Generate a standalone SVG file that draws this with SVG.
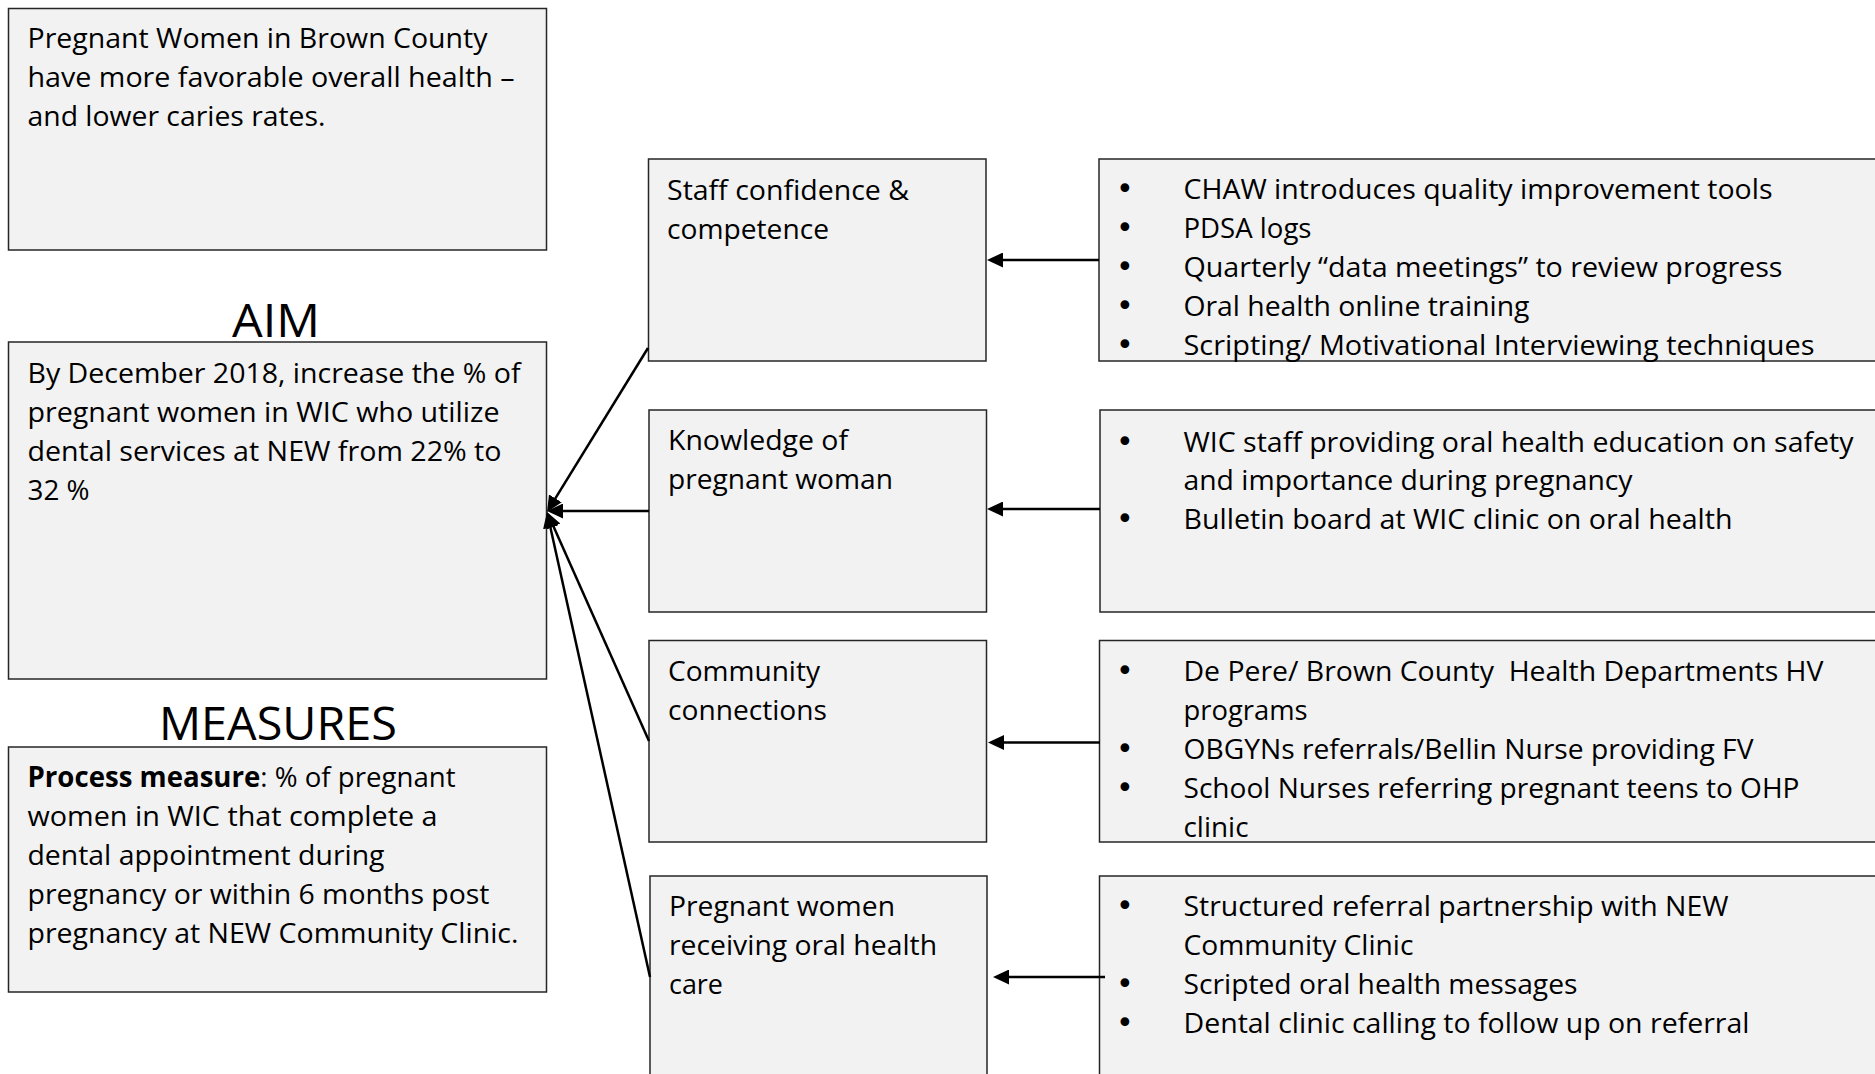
<svg xmlns="http://www.w3.org/2000/svg" width="1875" height="1074" viewBox="0 0 1875 1074">
<defs>
<style>
.box{fill:#f2f2f2;stroke:#262626;stroke-width:1.5}
.t{font-family:"Open Sans","Liberation Sans",sans-serif;font-size:28px;fill:#000}
.bu{font-family:"DejaVu Sans","Liberation Sans",sans-serif;font-size:30px;fill:#000}
.h{font-family:"Open Sans","Liberation Sans",sans-serif;font-size:45px;fill:#000}
.b{font-weight:bold}
.conn{stroke:#000;stroke-width:2.5;fill:none;marker-end:url(#ah)}
</style>
<marker id="ah" markerUnits="userSpaceOnUse" markerWidth="16" markerHeight="15" refX="8" refY="7.5" orient="auto" viewBox="0 0 16 15">
<path d="M0,0 L16,7.5 L0,15 z" fill="#000"/>
</marker>
</defs>
<rect width="1875" height="1074" fill="#fff"/>

<g id="goal">
<rect class="box" x="8.5" y="8.5" width="538" height="241.5"/>
<text class="t" x="27.5" y="47.5" textLength="460" lengthAdjust="spacingAndGlyphs">Pregnant Women in Brown County</text>
<text class="t" x="27.5" y="86.5" textLength="487" lengthAdjust="spacingAndGlyphs">have more favorable overall health –</text>
<text class="t" x="27.5" y="125.5" textLength="298" lengthAdjust="spacingAndGlyphs">and lower caries rates.</text>
</g>

<g id="aim">
<text class="h" x="232" y="337" textLength="88" lengthAdjust="spacingAndGlyphs">AIM</text>
<rect class="box" x="8.5" y="342" width="538" height="337"/>
<text class="t" x="27.5" y="382.5" textLength="493" lengthAdjust="spacingAndGlyphs">By December 2018, increase the % of</text>
<text class="t" x="27.5" y="421.5" textLength="472" lengthAdjust="spacingAndGlyphs">pregnant women in WIC who utilize</text>
<text class="t" x="27.5" y="460.5" textLength="474" lengthAdjust="spacingAndGlyphs">dental services at NEW from 22% to</text>
<text class="t" x="27.5" y="499.5" textLength="62" lengthAdjust="spacingAndGlyphs">32 %</text>
</g>

<g id="measures">
<text class="h" x="159" y="740" textLength="238" lengthAdjust="spacingAndGlyphs">MEASURES</text>
<rect class="box" x="8.5" y="747" width="538" height="245"/>
<text class="t" x="27.5" y="786.5" textLength="428" lengthAdjust="spacingAndGlyphs"><tspan class="b">Process measure</tspan>: % of pregnant</text>
<text class="t" x="27.5" y="825.5" textLength="410" lengthAdjust="spacingAndGlyphs">women in WIC that complete a</text>
<text class="t" x="27.5" y="864.5" textLength="357" lengthAdjust="spacingAndGlyphs">dental appointment during</text>
<text class="t" x="27.5" y="903.5" textLength="462" lengthAdjust="spacingAndGlyphs">pregnancy or within 6 months post</text>
<text class="t" x="27.5" y="942.5" textLength="491" lengthAdjust="spacingAndGlyphs">pregnancy at NEW Community Clinic.</text>
</g>

<g id="driver-staff">
<rect class="box" x="648.5" y="159" width="337.5" height="202"/>
<text class="t" x="667" y="200" textLength="242" lengthAdjust="spacingAndGlyphs">Staff confidence &amp;</text>
<text class="t" x="667" y="239" textLength="162" lengthAdjust="spacingAndGlyphs">competence</text>
</g>

<g id="driver-knowledge">
<rect class="box" x="649" y="410" width="337.5" height="202"/>
<text class="t" x="668" y="450" textLength="180" lengthAdjust="spacingAndGlyphs">Knowledge of</text>
<text class="t" x="668" y="489" textLength="225" lengthAdjust="spacingAndGlyphs">pregnant woman</text>
</g>

<g id="driver-community">
<rect class="box" x="649" y="640.5" width="337.5" height="201.5"/>
<text class="t" x="668" y="680.5" textLength="152" lengthAdjust="spacingAndGlyphs">Community</text>
<text class="t" x="668" y="719.5" textLength="159" lengthAdjust="spacingAndGlyphs">connections</text>
</g>

<g id="driver-care">
<rect class="box" x="650" y="876" width="337" height="210"/>
<text class="t" x="669" y="915.5" textLength="226" lengthAdjust="spacingAndGlyphs">Pregnant women</text>
<text class="t" x="669" y="954.5" textLength="268" lengthAdjust="spacingAndGlyphs">receiving oral health</text>
<text class="t" x="669" y="993.5" textLength="54" lengthAdjust="spacingAndGlyphs">care</text>
</g>

<g id="change-staff">
<rect class="box" x="1099" y="159" width="790" height="202"/>
<text class="bu" x="1116" y="199">•</text>
<text class="t" x="1183.5" y="199" textLength="589" lengthAdjust="spacingAndGlyphs">CHAW introduces quality improvement tools</text>
<text class="bu" x="1116" y="238">•</text>
<text class="t" x="1183.5" y="238" textLength="128" lengthAdjust="spacingAndGlyphs">PDSA logs</text>
<text class="bu" x="1116" y="277">•</text>
<text class="t" x="1183.5" y="277" textLength="599" lengthAdjust="spacingAndGlyphs">Quarterly “data meetings” to review progress</text>
<text class="bu" x="1116" y="316">•</text>
<text class="t" x="1183.5" y="316" textLength="346" lengthAdjust="spacingAndGlyphs">Oral health online training</text>
<text class="bu" x="1116" y="355">•</text>
<text class="t" x="1183.5" y="355" textLength="631" lengthAdjust="spacingAndGlyphs">Scripting/ Motivational Interviewing techniques</text>
</g>

<g id="change-knowledge">
<rect class="box" x="1100" y="410" width="790" height="202"/>
<text class="bu" x="1116" y="451.5">•</text>
<text class="t" x="1183.5" y="451.5" textLength="670" lengthAdjust="spacingAndGlyphs">WIC staff providing oral health education on safety</text>
<text class="t" x="1183.5" y="490" textLength="449" lengthAdjust="spacingAndGlyphs">and importance during pregnancy</text>
<text class="bu" x="1116" y="528.5">•</text>
<text class="t" x="1183.5" y="528.5" textLength="549" lengthAdjust="spacingAndGlyphs">Bulletin board at WIC clinic on oral health</text>
</g>

<g id="change-community">
<rect class="box" x="1099.5" y="640.5" width="790" height="201.5"/>
<text class="bu" x="1116" y="680.5">•</text>
<text class="t" x="1183.5" y="680.5" textLength="640" lengthAdjust="spacingAndGlyphs" style="white-space:pre">De Pere/ Brown County  Health Departments HV</text>
<text class="t" x="1183.5" y="719.5" textLength="124" lengthAdjust="spacingAndGlyphs">programs</text>
<text class="bu" x="1116" y="758.5">•</text>
<text class="t" x="1183.5" y="758.5" textLength="570" lengthAdjust="spacingAndGlyphs">OBGYNs referrals/Bellin Nurse providing FV</text>
<text class="bu" x="1116" y="797.5">•</text>
<text class="t" x="1183.5" y="797.5" textLength="616" lengthAdjust="spacingAndGlyphs">School Nurses referring pregnant teens to OHP</text>
<text class="t" x="1183.5" y="836.5" textLength="65" lengthAdjust="spacingAndGlyphs">clinic</text>
</g>

<g id="change-care">
<rect class="box" x="1099.5" y="876" width="790" height="210"/>
<text class="bu" x="1116" y="915.5">•</text>
<text class="t" x="1183.5" y="915.5" textLength="545" lengthAdjust="spacingAndGlyphs">Structured referral partnership with NEW</text>
<text class="t" x="1183.5" y="954.5" textLength="230" lengthAdjust="spacingAndGlyphs">Community Clinic</text>
<text class="bu" x="1116" y="993.5">•</text>
<text class="t" x="1183.5" y="993.5" textLength="394" lengthAdjust="spacingAndGlyphs">Scripted oral health messages</text>
<text class="bu" x="1116" y="1032.5">•</text>
<text class="t" x="1183.5" y="1032.5" textLength="566" lengthAdjust="spacingAndGlyphs">Dental clinic calling to follow up on referral</text>
</g>

<g id="connectors">
<line class="conn" x1="1099" y1="260" x2="995" y2="260"/>
<line class="conn" x1="1100" y1="509" x2="995" y2="509"/>
<line class="conn" x1="1100" y1="742.5" x2="996" y2="742.5"/>
<line class="conn" x1="1105" y1="977" x2="1001" y2="977"/>
<line class="conn" x1="648" y1="348" x2="551.2" y2="505.2"/>
<line class="conn" x1="649" y1="511" x2="555" y2="511"/>
<line class="conn" x1="649" y1="741" x2="550.3" y2="519.3"/>
<line class="conn" x1="650" y1="977" x2="548.7" y2="519.8"/>
</g>
</svg>
